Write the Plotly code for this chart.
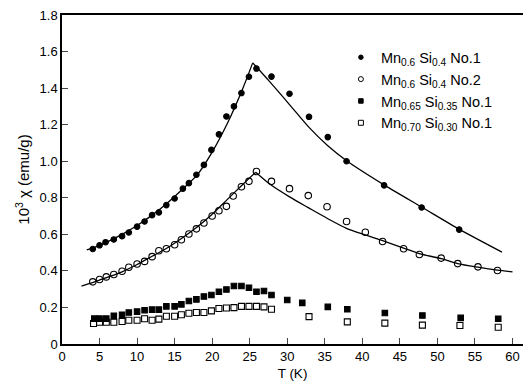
import plotly.graph_objects as go

# Measured susceptibility, 10^3 chi (emu/g) versus temperature T (K)
t_s1 = [4.1, 5.0, 5.8, 6.9, 8.0, 8.9, 10.0, 11.0, 12.0, 12.9, 13.9, 15.0, 16.1, 16.9,
        17.9, 18.9, 19.9, 20.9, 21.9, 22.9, 23.9, 24.9, 25.9, 27.9, 30.3, 32.9, 35.4,
        37.9, 42.9, 47.9, 52.9]
chi_s1 = [0.52, 0.54, 0.557, 0.572, 0.59, 0.61, 0.642, 0.67, 0.705, 0.72, 0.76, 0.796,
          0.85, 0.88, 0.926, 0.98, 1.062, 1.147, 1.245, 1.30, 1.373, 1.462, 1.507, 1.463,
          1.369, 1.243, 1.132, 1.0, 0.868, 0.747, 0.626]

t_s2 = [4.1, 5.0, 5.9, 6.9, 8.0, 8.9, 10.0, 11.0, 12.0, 12.9, 13.9, 15.0, 15.9, 16.9,
        17.9, 18.9, 20.0, 20.9, 21.9, 22.8, 23.9, 24.9, 25.9, 27.9, 30.3, 32.8, 35.3,
        37.9, 40.4, 42.7, 45.5, 47.6, 50.5, 52.7, 55.4, 58.0]
chi_s2 = [0.34, 0.353, 0.367, 0.38, 0.398, 0.42, 0.438, 0.452, 0.478, 0.51, 0.521, 0.543,
          0.57, 0.602, 0.63, 0.662, 0.70, 0.729, 0.753, 0.81, 0.86, 0.89, 0.944, 0.89,
          0.85, 0.812, 0.751, 0.67, 0.611, 0.561, 0.521, 0.49, 0.47, 0.44, 0.422, 0.402]

t_s3 = [4.3, 5.0, 5.9, 6.9, 8.0, 8.9, 10.0, 11.0, 12.0, 12.9, 13.9, 15.0, 15.9, 16.9,
        17.9, 18.9, 19.9, 20.9, 21.9, 22.9, 23.9, 24.9, 25.9, 26.9, 27.9, 30.0, 32.0,
        35.4, 38.0, 43.0, 48.0, 53.1, 58.1]
chi_s3 = [0.139, 0.139, 0.139, 0.154, 0.16, 0.172, 0.177, 0.185, 0.188, 0.188, 0.206,
          0.206, 0.217, 0.235, 0.244, 0.26, 0.268, 0.286, 0.298, 0.317, 0.317, 0.308,
          0.286, 0.29, 0.268, 0.241, 0.225, 0.203, 0.19, 0.17, 0.156, 0.143, 0.138]

t_s4 = [4.2, 5.0, 5.9, 6.9, 8.0, 8.9, 10.0, 11.0, 12.0, 12.9, 13.9, 15.0, 15.9, 16.9,
        17.9, 18.9, 19.9, 20.9, 21.9, 22.9, 23.9, 24.9, 25.9, 26.9, 27.9, 32.9, 38.0,
        43.0, 48.0, 53.0, 58.1]
chi_s4 = [0.112, 0.119, 0.119, 0.119, 0.123, 0.13, 0.13, 0.138, 0.13, 0.136, 0.152,
          0.152, 0.16, 0.168, 0.172, 0.172, 0.181, 0.194, 0.197, 0.199, 0.206, 0.206,
          0.206, 0.203, 0.19, 0.15, 0.121, 0.114, 0.103, 0.101, 0.092]

# Theoretical curves, split at the transition cusp
fit1_t_lo = [3.3, 5.0, 8.0, 10.0, 12.0, 14.0, 16.0, 18.0, 20.0, 22.0, 24.0, 25.4]
fit1_y_lo = [0.515, 0.54, 0.60, 0.648, 0.705, 0.77, 0.845, 0.925, 1.05, 1.205, 1.39, 1.538]
fit1_t_hi = [25.4, 27.6, 30.3, 32.9, 35.4, 38.0, 43.0, 48.0, 53.0, 58.6]
fit1_y_hi = [1.538, 1.438, 1.31, 1.185, 1.085, 1.0, 0.868, 0.747, 0.626, 0.503]

fit2_t_lo = [2.6, 5.0, 8.0, 10.0, 12.0, 14.0, 16.0, 18.0, 20.0, 22.0, 24.0, 25.8]
fit2_y_lo = [0.317, 0.35, 0.395, 0.435, 0.48, 0.525, 0.58, 0.64, 0.71, 0.79, 0.87, 0.94]
fit2_t_hi = [25.8, 27.9, 30.3, 32.8, 35.3, 37.9, 40.4, 42.7, 45.5, 47.6, 50.5, 52.7,
             55.4, 58.0, 60.0]
fit2_y_hi = [0.94, 0.868, 0.805, 0.746, 0.688, 0.633, 0.597, 0.565, 0.525, 0.494,
             0.467, 0.44, 0.42, 0.404, 0.395]

x_ticks = [0, 5, 10, 15, 20, 25, 30, 35, 40, 45, 50, 55, 60]
y_ticks = [0, 0.2, 0.4, 0.6, 0.8, 1.0, 1.2, 1.4, 1.6, 1.8]
y_tick_text = ["0", "0.2", "0.4", "0.6", "0.8", "1.0", "1.2", "1.4", "1.6", "1.8"]

names = [
    "Mn<sub>0.6</sub> Si<sub>0.4</sub> No.1",
    "Mn<sub>0.6</sub> Si<sub>0.4</sub> No.2",
    "Mn<sub>0.65</sub> Si<sub>0.35</sub> No.1",
    "Mn<sub>0.70</sub> Si<sub>0.30</sub> No.1",
]

FONT = "Liberation Sans, Arial, sans-serif"
fig = go.Figure()

for tx, ty in [(fit1_t_lo, fit1_y_lo), (fit1_t_hi, fit1_y_hi),
               (fit2_t_lo, fit2_y_lo), (fit2_t_hi, fit2_y_hi)]:
    fig.add_trace(go.Scatter(x=tx, y=ty, mode="lines", showlegend=False,
                             line=dict(color="black", width=1.3, shape="spline",
                                       smoothing=0.8),
                             hoverinfo="skip"))

series = [
    (t_s1, chi_s1, "circle", 5.5, "circle", 4.5),
    (t_s2, chi_s2, "circle-open", 6.5, "circle-open", 5),
    (t_s3, chi_s3, "square", 5.5, "square", 4.5),
    (t_s4, chi_s4, "square-open", 6, "square-open", 5),
]
for (tx, ty, sym, sz, lsym, lsz), nm in zip(series, names):
    fig.add_trace(go.Scatter(
        x=tx, y=ty, mode="markers", name=nm, showlegend=False,
        marker=dict(symbol=sym, size=sz, color="black",
                    line=dict(color="black", width=1.1)),
    ))
    # smaller key symbol for the legend
    fig.add_trace(go.Scatter(
        x=[None], y=[None], mode="markers", name=nm,
        marker=dict(symbol=lsym, size=lsz, color="black",
                    line=dict(color="black", width=1.0)),
    ))

fig.update_layout(
    width=525, height=381,
    margin=dict(l=62, r=2, t=15, b=34),
    paper_bgcolor="white", plot_bgcolor="white",
    font=dict(family=FONT, size=13, color="black"),
    showlegend=True,
    legend=dict(x=0.605, y=0.92, xanchor="left", yanchor="top",
                bgcolor="rgba(0,0,0,0)", font=dict(size=14.5, color="black"),
                tracegroupgap=0, itemwidth=30),
    xaxis=dict(range=[0, 61.4], tickvals=x_ticks, ticks="inside", ticklen=6,
               tickwidth=1.2, showline=True, linecolor="black", linewidth=1.5,
               mirror=True, showgrid=False, zeroline=False,
               title=dict(text="T (K)", standoff=5, font=dict(size=13.5)),
               tickfont=dict(size=13)),
    yaxis=dict(range=[0, 1.8], tickvals=y_ticks, ticktext=y_tick_text,
               ticks="inside", ticklen=6, tickwidth=1.2, showline=True,
               linecolor="black", linewidth=1.5, showgrid=False, zeroline=False,
               title=dict(text="10<sup>3</sup> χ (emu/g)", standoff=6,
                          font=dict(size=15)),
               tickfont=dict(size=13)),
)

fig.write_html("out.html")
